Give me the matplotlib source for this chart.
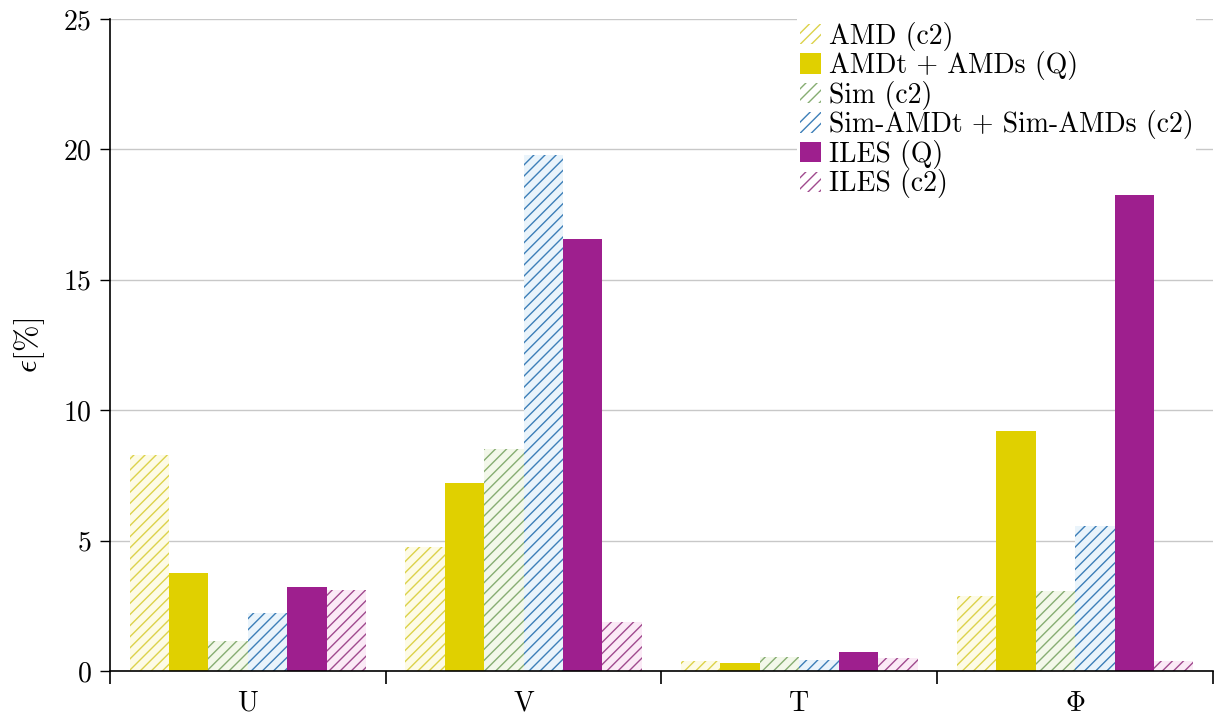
import numpy as np
import matplotlib
matplotlib.use("Agg")
import matplotlib.pyplot as plt
from matplotlib.patches import Patch

plt.rcParams['font.family'] = ['cmr10', 'DejaVu Serif']
plt.rcParams['mathtext.fontset'] = 'cm'
plt.rcParams['axes.formatter.use_mathtext'] = True
plt.rcParams['hatch.linewidth'] = 1.0

categories = ['U', 'V', 'T', r'$\Phi$']
series = ['AMD (c2)', 'AMDt + AMDs (Q)', 'Sim (c2)',
          'Sim-AMDt + Sim-AMDs (c2)', 'ILES (Q)', 'ILES (c2)']

amd_c2 = [8.28, 4.75, 0.38, 2.88]
amdt_q = [3.76, 7.2, 0.3, 9.2]
sim_c2 = [1.15, 8.5, 0.54, 3.07]
simamd_c2 = [2.22, 19.8, 0.42, 5.56]
iles_q = [3.22, 16.57, 0.73, 18.25]
iles_c2 = [3.1, 1.88, 0.5, 0.38]

values = [amd_c2, amdt_q, sim_c2, simamd_c2, iles_q, iles_c2]
# (hatched?, line colour, fill colour)
styles = [
    (True, '#dcd24a', '#fdfbe6'),
    (False, '#e0d000', '#e0d000'),
    (True, '#86ad72', '#f3f8ea'),
    (True, '#3d7fb8', '#eaf4fb'),
    (False, '#9e1f8e', '#9e1f8e'),
    (True, '#a04a8e', '#fbeaf6'),
]

fig = plt.figure(figsize=(12.27, 7.27), dpi=100)
ax = fig.add_axes([0.0896, 0.077, 0.899, 0.897])

x = np.arange(len(categories))
w = 0.143
handles = []
for i, (vals, st) in enumerate(zip(values, styles)):
    hatched, lc, fc = st
    pos = x + (i - 2.5) * w
    if hatched:
        ax.bar(pos, vals, w, color=fc, edgecolor=lc, hatch='///', linewidth=0, zorder=2)
        handles.append(Patch(facecolor='white', edgecolor=lc, hatch='///', linewidth=0))
    else:
        ax.bar(pos, vals, w, color=fc, linewidth=0, zorder=2)
        handles.append(Patch(facecolor=fc, linewidth=0))

ax.set_xlim(-0.5, 3.5)
ax.set_ylim(0, 25)
ax.set_yticks([0, 5, 10, 15, 20, 25])
ax.yaxis.grid(True, color='#c8c8c8', linewidth=1.0, zorder=0)
ax.set_axisbelow(True)

ax.set_xticks(x)
ax.set_xticklabels(categories, fontsize=20)
ax.tick_params(axis='x', length=0, pad=14)
ax.set_xticks(np.arange(-0.5, 4.0, 1.0), minor=True)
ax.tick_params(axis='x', which='minor', length=9, width=1.2, direction='out', bottom=True)
ax.tick_params(axis='y', labelsize=20, length=7, width=1.0, direction='out', pad=6)

for s in ['top', 'right']:
    ax.spines[s].set_visible(False)
for s in ['left', 'bottom']:
    ax.spines[s].set_linewidth(1.2)

ax.set_ylabel(r'$\epsilon$[%]', fontsize=23, labelpad=12)

leg = ax.legend(handles, series, loc='upper right', bbox_to_anchor=(0.985, 1.0),
                fontsize=20, frameon=True, framealpha=1, edgecolor='none',
                handlelength=0.75, handleheight=0.75, handletextpad=0.3,
                labelspacing=0.02, borderpad=0.1, borderaxespad=0.0, fancybox=False)
leg.set_zorder(1.5)  # hides the grid but stays under the bars

fig.savefig('out.png', dpi=100)
